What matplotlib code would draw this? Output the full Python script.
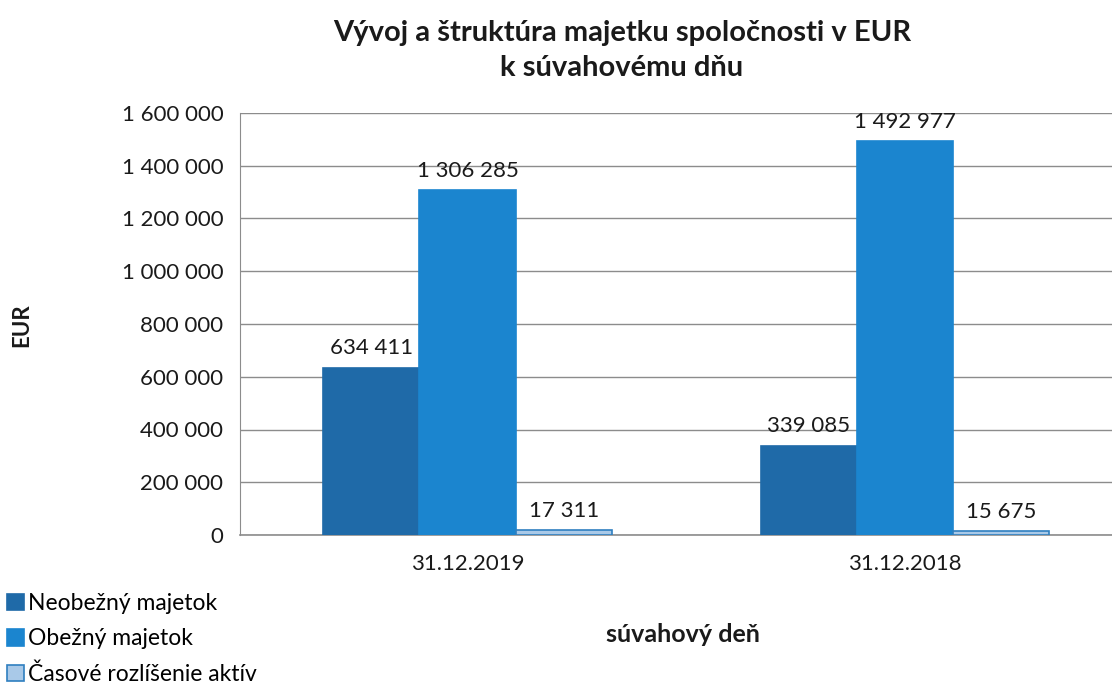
import matplotlib
matplotlib.use("Agg")
import matplotlib.pyplot as plt
import matplotlib.ticker as mticker
import numpy as np

FONT = "Lato"
TEXT = "#1a1a1a"
GRID = "#8c8c8c"

dates = ["31.12.2019", "31.12.2018"]
series_names = ["Neobežný majetok", "Obežný majetok", "Časové rozlíšenie aktív"]
neobezny = [634411, 339085]
obezny = [1306285, 1492977]
casove = [17311, 15675]

colors = ["#1f6aa8", "#1b85cf", "#a9c9e8"]
edges = ["#1f6aa8", "#1b85cf", "#2f7fc0"]


def fmt(v):
    return f"{v:,.0f}".replace(",", " ")


fig = plt.figure(figsize=(11.12, 6.99), dpi=100)
fig.patch.set_facecolor("white")
ax = fig.add_axes([240 / 1112, 1 - 535 / 699, 1 - 240 / 1112, 422 / 699])

x = np.arange(len(dates))
w = 0.22
for i, (vals, name) in enumerate(zip([neobezny, obezny, casove], series_names)):
    bars = ax.bar(x + (i - 1) * w, vals, width=w, color=colors[i],
                  edgecolor=edges[i], linewidth=1.2, label=name, zorder=3)
    for b, v in zip(bars, vals):
        ax.text(b.get_x() + b.get_width() / 2, v + 35000, fmt(v),
                ha="center", va="bottom", fontsize=16, family=FONT, color=TEXT)

ax.set_ylim(0, 1600000)
ax.set_xlim(-0.52, 1.473)
ax.yaxis.set_major_locator(mticker.MultipleLocator(200000))
ax.yaxis.set_major_formatter(mticker.FuncFormatter(lambda v, p: fmt(v)))
ax.grid(axis="y", color=GRID, linewidth=1.0, zorder=0)
ax.set_axisbelow(True)
for sp in ["top", "right"]:
    ax.spines[sp].set_visible(False)
ax.spines["left"].set_color(GRID)
ax.spines["bottom"].set_color(GRID)
ax.spines["bottom"].set_linewidth(1.2)
ax.tick_params(axis="y", length=0, pad=12, labelsize=16)
ax.tick_params(axis="x", length=0, pad=14, labelsize=16)
ax.set_xticks(x)
ax.set_xticklabels(dates)
for t in ax.get_xticklabels() + ax.get_yticklabels():
    t.set_family(FONT)
    t.set_color(TEXT)

fig.text(622 / 1112, 1 - 33 / 699, "Vývoj a štruktúra majetku spoločnosti v EUR",
         ha="center", va="center", fontsize=21, fontweight="bold", family=FONT, color=TEXT)
fig.text(622 / 1112, 1 - 68 / 699, "k súvahovému dňu",
         ha="center", va="center", fontsize=21, fontweight="bold", family=FONT, color=TEXT)
fig.text(683 / 1112, 1 - 635 / 699, "súvahový deň",
         ha="center", va="center", fontsize=18, fontweight="bold", family=FONT, color=TEXT)
fig.text(22 / 1112, 1 - 325 / 699, "EUR", rotation=90,
         ha="center", va="center", fontsize=16, fontweight="bold", family=FONT, color=TEXT)

handles, labels = ax.get_legend_handles_labels()
fig.legend(handles, labels, loc="upper left", bbox_to_anchor=(-0.008, 1 - 577 / 699),
           frameon=False, handlelength=0.75, handleheight=0.75, handletextpad=0.15,
           labelspacing=0.62, borderpad=0.2, prop={"family": FONT, "size": 16.5})

fig.savefig("out.png", dpi=100, facecolor="white")
